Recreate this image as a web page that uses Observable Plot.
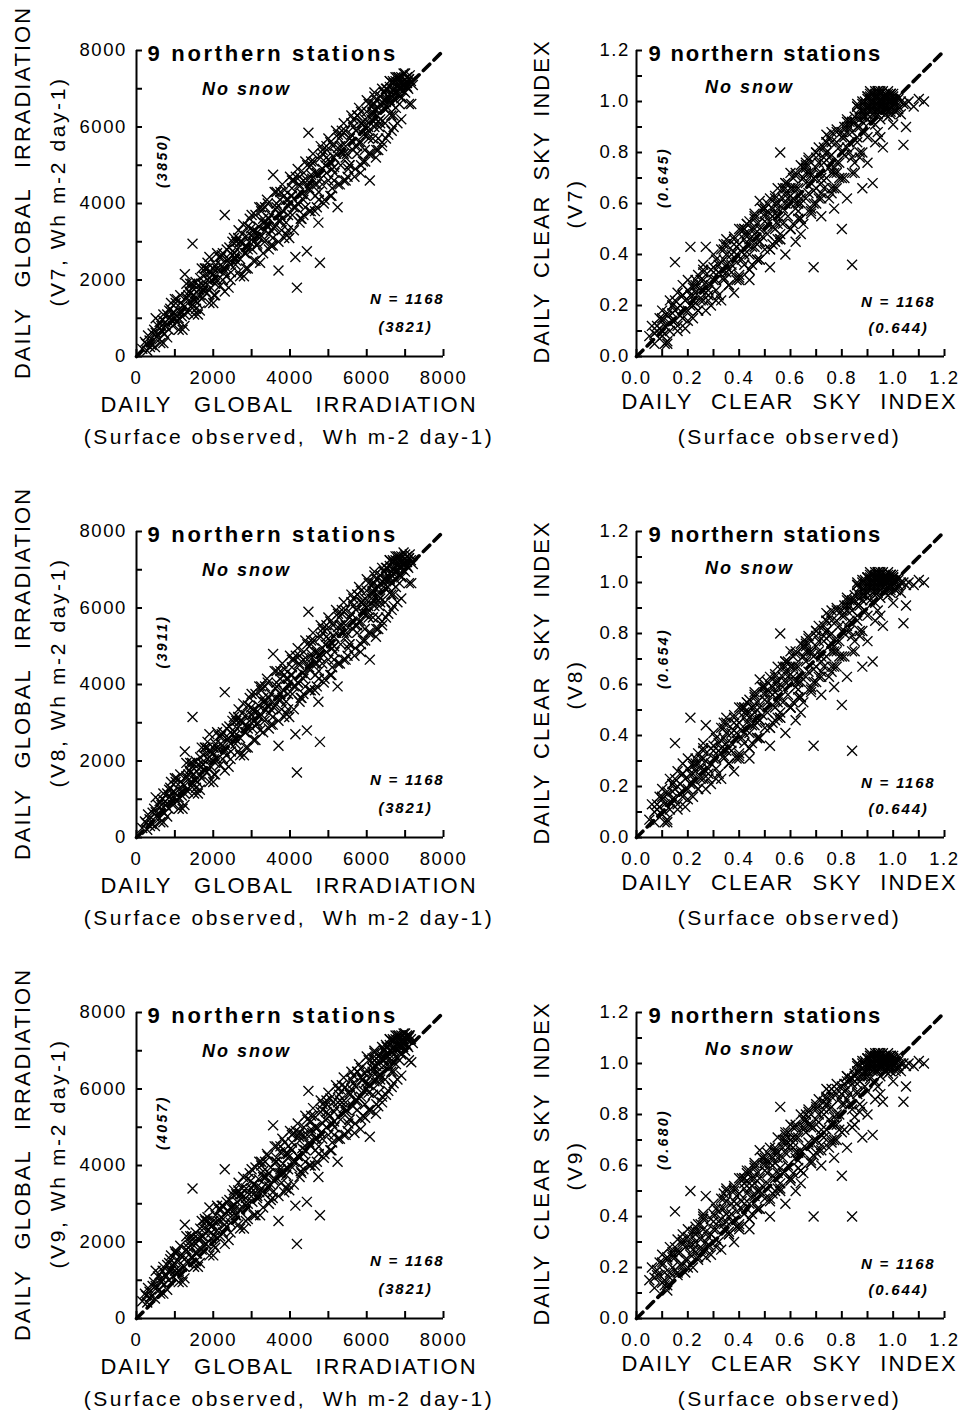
<!DOCTYPE html>
<html><head><meta charset="utf-8">
<script src="https://cdn.jsdelivr.net/npm/d3@7"></script>
<script src="https://cdn.jsdelivr.net/npm/@observablehq/plot@0.6"></script>
<style>
html,body{margin:0;padding:0;background:#fff;overflow:hidden}
#grid{display:grid;grid-template-columns:481px 481px;width:962px}
#grid svg{display:block;max-width:none;overflow:visible;background:none}
svg text{font-family:"Liberation Sans",Arial,sans-serif;fill:#000}
g[aria-label="x-axis tick label"],g[aria-label="y-axis tick label"]{font-size:18.5px}
g[aria-label="x-axis tick label"] text,g[aria-label="y-axis tick label"] text{letter-spacing:1.6px}
g[aria-description="station"] text{letter-spacing:2.7px}
.csi g[aria-description="station"] text{letter-spacing:1.8px}
g[aria-description="nosnow"] text{letter-spacing:2px}
g[aria-description="mean"] text{letter-spacing:2.4px}
g[aria-description="count"] text{letter-spacing:1.8px}
.irr g[aria-description="xtitle"] text{letter-spacing:2px;word-spacing:14px}
.csi g[aria-description="xtitle"] text{letter-spacing:2px;word-spacing:10px}
g[aria-description="xsub"] text{letter-spacing:2.5px}
.irr g[aria-description="ytitle"] text{letter-spacing:2px;word-spacing:12px}
.csi g[aria-description="ytitle"] text{letter-spacing:2px;word-spacing:6px}
g[aria-description="ysub"] text{letter-spacing:2.6px}
</style>
</head><body>
<div id="grid"></div>
<script>
// ---------- data ----------
const versions = ["V7", "V8", "V9"];
const stationLabel = "9 northern stations";
const snowLabel = "No snow";
const nDays = 1168;
const irrObsMean = 3821;
const irrModelMeans = [3850, 3911, 4057];
const csiObsMean = 0.644;
const csiModelMeans = [0.645, 0.654, 0.680];
const irrDomain = [0, 8000];
const csiDomain = [0, 1.2];
const irrMajorTicks = [0, 2000, 4000, 6000, 8000];
const irrMinorTicks = [0, 1000, 2000, 3000, 4000, 5000, 6000, 7000, 8000];
const csiMajorTicks = [0, 0.2, 0.4, 0.6, 0.8, 1.0, 1.2];
const csiMinorTicks = [0, 0.1, 0.2, 0.3, 0.4, 0.5, 0.6, 0.7, 0.8, 0.9, 1.0, 1.1, 1.2];

// daily global irradiation, surface observed (Wh m-2 day-1)
const irrObs = [
150,220,280,340,390,420,480,520,560,600,
640,680,720,760,800,840,880,900,950,980,
1020,1060,1100,1140,1180,1220,1260,1300,1340,1380,
1420,1460,1500,1540,1580,1620,1660,1700,1740,1780,
1820,1860,1900,1940,1980,2020,2060,2100,2140,2180,
2220,2260,2300,2340,2380,2420,2460,2500,2540,2580,
2620,2660,2700,2740,2780,2820,2860,2900,2940,2980,
3020,3060,3100,3140,3180,3220,3260,3300,3340,3380,
3420,3460,3500,3560,3580,3620,3700,3700,3740,3780,
3820,3860,3900,3940,3980,4020,4060,4100,4140,4180,
4200,4240,4280,4320,4360,4400,4440,4480,4500,4540,
4580,4620,4660,4700,4740,4780,4800,4840,4880,4920,
4960,5000,5040,5080,5120,5160,5200,5240,5280,5320,
5360,5400,5440,5480,5520,5560,5600,5640,5680,5720,
5760,5800,5840,5880,5920,5960,6000,6040,6080,6120,
6160,6200,6240,6280,6320,6360,6400,6440,6480,6520,
6560,6600,6640,6680,6720,6760,6800,6840,6880,6920,
6960,7000,7040,7080,7120,7160,7200,
300,460,620,700,860,1000,1150,1250,1350,1450,
1550,1650,1750,1850,1950,2050,2150,2250,2350,2450,
2550,2650,2750,2850,2950,3050,3150,3250,3350,3450,
3550,3650,3750,3850,3950,4050,4150,4250,4350,4450,
4550,4650,4750,4850,4950,5050,5150,5250,5350,5450,
5550,5650,5750,5850,5950,6050,6150,6250,6350,6450,
6550,6650,6750,6850,6950,7050,6600,6700,6900,6800,
7000,6500,6300,
250,500,750,950,1100,1300,1450,1600,1800,1950,
2100,2300,2450,2600,2750,2900,3050,3200,3350,3500,
3650,3800,3950,4100,4250,4400,4550,4700,4850,5000,
5150,5300,5450,5600,5750,5900,6050,6200,6350,6500,
6650,6800,6950,7100,6400,6550,6700,6850,7000,7150,
6450,6600,6750,6900,7050,6250,6150,6050,5950,5850,
350,650,850,1050,1250,1400,1550,1700,1900,2000,
2200,2400,2550,2700,2850,3000,3150,3300,3450,3600,
3750,3900,4050,4200,4350,4500,4650,4800,4950,5100,
5250,5400,5550,5700,5850,6000,6150,6300,6450,6600,
6750,6900,7050,6850,6950,6650,6500,6350,7100,6200,
3000,3100,3200,3300,3400,3500,3600,3700,3800,3900,
4000,4100,4200,4300,4400,4500,4600,4700,4800,4900,
5000,5100,5200,5300,5400,5500,5600,5700,5800,5900,
6000,6100,6200,6300,6400,6500,6600,6700,6800,6900,
3050,3250,3450,3650,3850,4050,4250,4450,4650,4850,
5050,5250,5450,5650,5850,6050,6250,6450,6650,6850,
1000,1200,1400,1600,1800,2000,2200,2400,2600,2800,
1100,1300,1500,1700,1900,2100,2300,2500,2700,2900,
6200,6400,6600,6800,7000,6300,6500,6700,6900,7100,
500,700,900,600,800,1050,1250,1450,1650,1850,
2050,2250,2450,2650,2850,3350,3550,3750,3950,4150,
4350,4550,4750,4950,5150,5350,5550,5750,5950,6150];

const irrV7 = [
200,380,150,420,300,600,250,520,800,450,
680,950,600,820,1100,700,1250,950,800,1150,
1400,900,1200,1600,1050,1350,2150,1500,1150,1700,
1300,2950,1600,1950,1400,1750,2050,1500,1850,2300,
1650,2000,2600,1800,2150,1600,2400,2000,2250,1850,
2650,2300,3700,2100,2500,2850,2200,2650,3100,2400,
2800,3300,2550,3000,3450,2700,3150,2300,3000,3350,
2800,3250,3700,2900,3400,2450,3150,3600,3000,3450,
4000,3200,3700,4750,3350,3850,2250,3550,4100,3300,
3800,4350,3500,3950,3100,4200,3700,4600,2600,1800,
4000,4500,3600,4250,4800,3900,2750,5850,4400,3800,
4650,5100,4200,4800,3500,2450,5200,4500,4000,5000,
5400,4600,5100,4200,5500,4800,5300,3900,5700,5000,
5500,4600,5900,5300,4900,5700,6100,5400,4700,5900,
6300,5600,4800,6100,5800,5100,6400,6000,4600,6200,
5700,6600,5200,6300,6000,6800,5500,6500,6100,7000,
5800,6700,6300,7200,6900,6500,7100,7300,6800,7100,
7400,6900,7200,7000,7350,6600,7100,
550,700,350,1100,1000,1000,1400,1100,1600,1800,
1250,1600,2100,2450,2000,1900,2600,2000,2800,2400,
2700,2200,3200,2900,3600,3000,3250,3800,3300,3600,
3100,4000,3700,4200,3700,4400,3900,4700,4100,4600,
5000,4500,4300,5300,4800,5600,5200,4500,5800,5500,
5000,6000,5300,6400,6000,5300,6400,6700,6200,6900,
6500,6900,7200,6600,7200,7300,7050,7000,7000,6900,
7100,6700,6500,
330,620,900,1150,1000,1550,1350,1850,1700,2200,
2300,2200,2700,2500,2950,2800,3300,3100,3500,3300,
3900,3600,4100,3900,4450,4200,4750,4500,4900,5150,
4950,5500,5200,5800,5500,6050,5700,6450,6100,6650,
6600,6950,7100,7250,6650,6800,7150,7000,7250,7200,
6900,6850,7300,7150,7050,6450,6300,5900,6200,5600,
250,800,1200,900,1300,1650,1450,1900,2200,2300,
2400,2550,2600,3000,2700,3150,2950,3500,3600,3400,
3550,4100,4200,4000,4600,4350,4800,4650,5200,4900,
5450,5300,5700,5500,6100,5800,6350,6150,6600,6350,
6900,6750,7150,7200,6950,6800,6750,6600,7250,6000,
3700,2500,3900,2700,4100,2900,4300,3000,4500,3200,
4700,3300,4900,3600,5100,3800,5300,3900,5500,4100,
5700,4400,5900,4500,6100,4700,6300,4900,6500,5100,
6700,5300,6900,5400,7000,5700,7200,6000,7300,6200,
2500,3900,2800,4300,3100,4600,3500,5000,3800,5400,
4200,5800,4600,6200,5000,6600,5400,6900,5900,7100,
1500,700,1900,1100,2300,1400,2600,1800,3000,2100,
700,1900,1100,2300,1400,2700,1700,3000,2100,3400,
6800,5600,7200,6100,7400,5700,7000,6300,7300,6600,
1000,350,1400,900,500,1500,800,1900,1200,2300,
1600,2700,2000,3100,2300,3900,2900,4300,3300,4700,
3700,5100,4100,5500,4600,5900,5000,6300,5400,6600];

const irrV8 = [
250,420,200,480,350,650,300,560,850,500,
720,1000,650,850,1150,750,1300,1000,850,1200,
1450,950,1250,1650,1100,1400,2250,1550,1200,1750,
1350,3150,1650,2000,1450,1800,2100,1550,1900,2350,
1700,2050,2700,1850,2200,1650,2450,2050,2300,1900,
2700,2350,3800,2150,2550,2900,2250,2700,3150,2450,
2850,3350,2600,3050,3500,2750,3200,2350,3050,3400,
2850,3300,3750,2950,3450,2800,3200,3650,3050,3500,
4050,3250,3750,4800,3400,3900,2400,3600,4150,3350,
3850,4400,3550,4000,3150,4250,3750,4650,2700,1700,
4050,4550,3650,4300,4850,3950,2800,5900,4450,3850,
4700,5150,4250,4850,3550,2500,5250,4550,4050,5050,
5450,4650,5150,4250,5550,4850,5350,3950,5750,5050,
5550,4650,5950,5350,4950,5750,6150,5450,4750,5950,
6350,5650,4850,6150,5850,5150,6450,6050,4650,6250,
5750,6650,5250,6350,6050,6850,5550,6550,6150,7050,
5850,6750,6350,7250,6950,6550,7150,7350,6850,7150,
7450,6950,7250,7050,7400,6650,7150,
600,750,400,1150,1050,1050,1450,1150,1650,1850,
1300,1650,2150,2500,2050,1950,2650,2050,2850,2450,
2750,2250,3250,2950,3650,3050,3300,3850,3350,3650,
3150,4050,3750,4250,3750,4450,3950,4750,4150,4650,
5050,4550,4350,5350,4850,5650,5250,4550,5850,5550,
5050,6050,5350,6450,6050,5350,6450,6750,6250,6950,
6550,6950,7250,6650,7250,7350,7100,7050,7050,6950,
7150,6750,6550,
380,660,950,1200,1050,1600,1400,1900,1750,2250,
2350,2250,2750,2550,3000,2850,3350,3150,3550,3350,
3950,3650,4150,3950,4500,4250,4800,4550,4950,5200,
5000,5550,5250,5850,5550,6100,5750,6500,6150,6700,
6650,7000,7150,7300,6700,6850,7200,7050,7300,7250,
6950,6900,7350,7200,7100,6500,6350,5950,6250,5650,
300,850,1250,950,1350,1700,1500,1950,2250,2350,
2450,2600,2650,3050,2750,3200,3000,3550,3650,3450,
3600,4150,4250,4050,4650,4400,4850,4700,5250,4950,
5500,5350,5750,5550,6150,5850,6400,6200,6650,6400,
6950,6800,7200,7250,7000,6850,6800,6650,7300,6050,
3750,2550,3950,2750,4150,2950,4350,3050,4550,3250,
4750,3350,4950,3650,5150,3850,5350,3950,5550,4150,
5750,4450,5950,4550,6150,4750,6350,4950,6550,5150,
6750,5350,6950,5450,7050,5750,7250,6050,7350,6250,
2550,3950,2850,4350,3150,4650,3550,5050,3850,5450,
4250,5850,4650,6250,5050,6650,5450,6950,5950,7150,
1550,750,1950,1150,2350,1450,2650,1850,3050,2150,
750,1950,1150,2350,1450,2750,1750,3050,2150,3450,
6850,5650,7250,6150,7400,5750,7050,6350,7350,6650,
1050,400,1450,950,550,1550,850,1950,1250,2350,
1650,2750,2050,3150,2350,3950,2950,4350,3350,4750,
3750,5150,4150,5550,4650,5950,5050,6350,5450,6650];

const irrV9 = [
450,650,420,700,580,850,520,800,1100,750,
950,1250,900,1100,1400,1000,1550,1250,1100,1450,
1700,1200,1500,1900,1350,1650,2450,1800,1450,2000,
1600,3400,1900,2250,1700,2050,2350,1800,2150,2600,
1950,2300,2900,2100,2450,1900,2700,2300,2550,2150,
2950,2600,3900,2400,2800,3100,2500,2950,3350,2700,
3050,3550,2850,3250,3700,3000,3400,2600,3250,3600,
3050,3500,3950,3150,3650,2700,3400,3850,3250,3700,
4250,3450,3950,5050,3600,4100,2550,3800,4350,3550,
4050,4600,3750,4200,3350,4450,3950,4850,2950,1950,
4250,4750,3850,4450,5000,4100,3050,5950,4600,4000,
4850,5300,4400,5000,3700,2700,5400,4700,4200,5200,
5600,4800,5300,4400,5650,5000,5500,4100,5850,5200,
5650,4800,6050,5450,5100,5850,6250,5550,4850,6050,
6450,5750,4950,6250,5950,5250,6500,6150,4750,6350,
5850,6750,5350,6450,6150,6900,5650,6600,6250,7100,
5950,6800,6450,7300,7000,6650,7200,7400,6950,7200,
7450,7000,7300,7100,7400,6700,7200,
800,950,650,1350,1250,1250,1650,1350,1850,2050,
1500,1850,2350,2650,2250,2150,2850,2250,3050,2650,
2950,2450,3400,3150,3800,3250,3450,4000,3500,3800,
3300,4200,3900,4400,3900,4600,4100,4850,4300,4800,
5150,4700,4500,5450,5000,5750,5400,4700,5950,5650,
5200,6150,5450,6550,6150,5450,6550,6800,6350,7000,
6650,7000,7300,6750,7300,7400,7150,7100,7100,7000,
7200,6850,6650,
600,850,1150,1400,1250,1800,1600,2100,1950,2400,
2500,2450,2900,2700,3150,3000,3500,3300,3700,3500,
4100,3800,4300,4100,4650,4400,4950,4700,5100,5350,
5150,5700,5400,6000,5700,6250,5900,6600,6250,6800,
6750,7050,7200,7350,6800,6950,7250,7100,7350,7300,
7050,7000,7400,7250,7150,6600,6450,6100,6400,5800,
550,1050,1450,1150,1550,1900,1700,2150,2450,2550,
2650,2800,2850,3250,2950,3400,3200,3700,3800,3650,
3800,4300,4400,4250,4800,4550,5000,4850,5400,5100,
5650,5500,5900,5700,6300,6000,6550,6350,6750,6550,
7050,6900,7300,7300,7100,6950,6900,6800,7400,6200,
3900,2700,4100,2900,4300,3100,4500,3200,4700,3400,
4900,3500,5100,3800,5300,4000,5500,4100,5700,4300,
5900,4600,6100,4700,6300,4900,6450,5100,6650,5300,
6850,5450,7000,5550,7100,5850,7300,6150,7400,6350,
2700,4100,3000,4500,3300,4800,3700,5200,4000,5600,
4400,6000,4800,6350,5200,6750,5600,7000,6050,7200,
1750,950,2150,1350,2550,1650,2850,2050,3250,2350,
950,2150,1350,2550,1650,2950,1950,3250,2350,3650,
6950,5800,7300,6250,7450,5900,7150,6450,7400,6750,
1250,650,1650,1150,750,1750,1050,2150,1450,2550,
1850,2950,2250,3350,2550,4100,3150,4500,3500,4900,
3900,5300,4300,5700,4800,6100,5200,6450,5600,6800];

// daily clear sky index, surface observed
const csiObs = [
.05,.06,.07,.08,.09,.10,.10,.11,.12,.12,
.13,.13,.14,.15,.15,.16,.16,.17,.18,.18,
.19,.20,.20,.21,.21,.22,.22,.23,.24,.24,
.25,.26,.26,.27,.27,.28,.29,.29,.30,.31,
.31,.32,.33,.33,.34,.35,.35,.36,.37,.37,
.38,.39,.39,.40,.40,.41,.42,.42,.43,.44,
.44,.45,.46,.46,.47,.48,.48,.49,.50,.50,
.51,.52,.52,.53,.54,.54,.55,.55,.56,.56,
.57,.58,.58,.59,.60,.60,.61,.62,.62,.63,
.64,.64,.65,.66,.66,.67,.68,.68,.69,.69,
.70,.70,.71,.72,.72,.73,.74,.74,.75,.76,
.76,.77,.78,.78,.79,.80,.80,.81,.82,.82,
.83,.84,.84,.85,.85,.86,.87,.87,.88,.88,
.89,.89,.90,.90,.91,.91,.92,.92,.93,.93,
.94,.94,.95,.95,.96,.96,.97,.97,.98,.98,
.99,.99,1.00,1.00,1.01,1.02,1.03,1.04,1.05,1.06,
1.08,1.10,1.12,1.04,
.86,.88,.90,.92,.93,.94,.95,.96,.97,.98,
.99,1.00,1.01,.91,.89,.87,.95,.93,1.02,.84,
.83,.81,.79,.77,.75,.73,.71,.69,.67,.65,
.63,.61,.59,.57,.55,.53,.51,.49,.47,.45,
.43,.41,.39,.37,.35,.33,.31,.29,.27,.25,
.23,.21,.19,.17,.15,.13,.11,.09,.07,.14,
.18,.22,.26,.30,.34,.38,.42,.46,.50,.54,
.58,.62,.66,.70,.74,.78,.82,.86,.90,.94,
.98,.64,.76,.60,.48,.44,
.88,.90,.91,.92,.93,.94,.95,.96,.97,.98,
.99,1.00,1.01,1.02,.89,.91,.93,.95,.97,.99,
.92,.94,.96,.98,1.00,.90,.93,.95,.97,.99,
.87,.89,.91,.94,.96,.98,1.00,1.02,.92,.96,
.85,.86,.88,.90,.94,.97,1.03,1.05,.99,.95,
.08,.12,.16,.20,.24,.28,.32,.36,.40,.44,
.48,.52,.56,.60,.64,.68,.72,.76,.80,.84,
.10,.14,.18,.22,.26,.30,.34,.38,.42,.46,
.50,.54,.58,.62,.66,.70,.74,.78,.82,.86,
.45,.55,.65,.75,.35,.25,.57,.67,.77,.81,
.71,.61,.53,.43,.33,.23,.47,.63,.73,.83,
.30,.32,.34,.36,.38,.40,.42,.44,.46,.48,
.50,.52,.54,.56,.58,.60,.62,.64,.66,.68,
.70,.72,.74,.76,.78,.80,.82,.84,.86,.88,
.31,.35,.39,.43,.47,.51,.55,.59,.63,.67,
.71,.75,.79,.83,.87,.91,.95,.99,.89,.93,
.10,.12,.14,.16,.18,.20,.22,.24,.26,.28,
.11,.15,.19,.23,.27,.41,.45,.49,.53,.57,
.61,.65,.69,.73,.77,.81,.85,.89,.93,.97,
.90,.92,.94,.96,.98,1.00,.91,.93,.95,.97,
.99,1.01,.88,.86,.84,.82,.80,.78,.76,.74,
.72,.70,.68,.66,.64,.62,.60,.58,.56,.54,
.52,.50,.48,.46,.44,.42,.40,.38,.36,.34];

const csiV7 = [
.08,.12,.05,.10,.15,.08,.18,.12,.05,.16,
.10,.22,.14,.37,.18,.12,.25,.20,.15,.28,
.22,.18,.30,.43,.24,.15,.27,.21,.32,.18,
.26,.36,.22,.43,.29,.24,.34,.20,.30,.38,
.26,.33,.42,.22,.30,.36,.46,.28,.40,.33,
.25,.43,.37,.50,.32,.41,.46,.36,.52,.40,
.30,.47,.43,.56,.38,.50,.45,.58,.42,.53,
.48,.62,.35,.51,.56,.45,.66,.52,.80,.48,
.58,.68,.40,.55,.63,.50,.70,.58,.45,.66,
.60,.75,.52,.68,.62,.78,.56,.71,.35,.65,
.74,.60,.82,.68,.55,.76,.70,.87,.62,.79,
.72,.58,.84,.66,.76,.50,.88,.70,.82,.62,
.90,.36,.78,.94,.72,.86,.97,.80,.92,.66,
1.00,.88,.95,.76,1.02,.92,.98,.68,1.03,.95,
.99,.88,1.01,.96,1.04,.82,.98,1.02,.94,1.00,
1.03,.97,1.01,.91,.99,1.02,.95,.83,.90,1.00,
.98,1.01,1.00,.99,
.95,.99,1.01,1.03,.99,1.02,.98,1.00,.95,1.02,
1.00,1.03,.96,.97,.94,.90,.93,.91,.98,.88,
.84,.79,.82,.74,.78,.66,.72,.70,.64,.70,
.57,.62,.62,.52,.58,.55,.52,.47,.52,.43,
.44,.38,.40,.36,.33,.34,.30,.28,.25,.22,
.25,.20,.18,.16,.14,.13,.09,.11,.09,.20,
.24,.24,.30,.33,.38,.41,.48,.48,.56,.60,
.60,.66,.72,.78,.80,.89,.92,.98,.86,.95,
.97,.48,.64,.72,.61,.53,
1.00,.98,1.03,1.00,1.02,.97,1.03,.99,1.01,1.04,
.96,1.02,1.00,.97,.97,1.01,1.04,.99,1.03,1.01,
.95,1.03,.98,1.00,.98,1.02,.96,1.04,1.00,.98,
.93,.98,1.04,1.01,.97,1.03,.99,1.01,.99,1.02,
.92,.99,.96,.93,1.04,.99,1.00,.99,.95,1.00,
.12,.17,.19,.26,.28,.26,.36,.34,.44,.46,
.45,.56,.54,.66,.62,.72,.70,.84,.80,.92,
.14,.17,.24,.20,.33,.35,.31,.44,.40,.50,
.55,.50,.64,.60,.74,.66,.80,.76,.90,.84,
.50,.60,.70,.74,.40,.30,.62,.72,.72,.86,
.76,.66,.58,.48,.37,.28,.44,.60,.78,.80,
.40,.24,.44,.28,.47,.30,.50,.34,.55,.38,
.58,.42,.62,.46,.66,.50,.71,.54,.75,.57,
.80,.62,.84,.66,.88,.70,.93,.72,.98,.80,
.22,.44,.30,.52,.38,.60,.46,.68,.54,.77,
.62,.86,.70,.92,.78,.98,.86,1.03,.94,.97,
.15,.06,.20,.10,.24,.14,.28,.18,.34,.22,
.05,.22,.11,.30,.18,.50,.36,.58,.44,.66,
.52,.74,.60,.82,.66,.90,.76,.96,.84,1.02,
1.02,.97,1.04,.99,1.02,1.00,.99,1.02,.98,1.01,
1.03,.96,.94,.90,.92,.88,.86,.72,.88,.84,
.64,.80,.58,.76,.54,.72,.50,.68,.46,.63,
.42,.58,.38,.54,.34,.50,.31,.46,.28,.42];

const csiV8 = [
.07,.13,.06,.11,.16,.09,.19,.13,.06,.17,
.11,.23,.15,.37,.19,.13,.26,.21,.16,.29,
.23,.19,.31,.47,.25,.16,.28,.22,.33,.19,
.27,.37,.23,.44,.30,.25,.35,.21,.31,.39,
.27,.34,.43,.23,.31,.37,.47,.29,.41,.34,
.26,.44,.38,.51,.33,.42,.47,.37,.53,.41,
.31,.48,.44,.57,.39,.51,.46,.59,.43,.54,
.49,.63,.36,.52,.57,.46,.67,.53,.80,.49,
.59,.69,.41,.56,.64,.51,.71,.59,.46,.67,
.61,.76,.53,.69,.63,.79,.57,.72,.36,.66,
.75,.61,.83,.69,.56,.77,.71,.88,.63,.80,
.73,.59,.85,.67,.77,.52,.89,.71,.83,.63,
.91,.34,.79,.95,.73,.87,.98,.81,.93,.67,
1.01,.89,.96,.77,1.02,.93,.99,.69,1.03,.96,
1.00,.89,1.02,.97,1.04,.83,.99,1.02,.95,1.01,
1.03,.98,1.02,.92,1.00,1.02,.96,.84,.91,1.00,
.99,1.01,1.00,1.00,
.96,1.00,1.02,1.03,1.00,1.02,.99,1.01,.96,1.02,
1.01,1.03,.97,.98,.95,.91,.94,.92,.99,.89,
.85,.80,.83,.75,.79,.67,.73,.71,.65,.71,
.58,.63,.63,.53,.59,.56,.53,.48,.53,.44,
.45,.39,.41,.37,.34,.35,.31,.29,.26,.23,
.26,.21,.19,.17,.15,.14,.10,.12,.10,.21,
.25,.25,.31,.34,.39,.42,.49,.49,.57,.61,
.61,.67,.73,.79,.81,.90,.93,.99,.87,.96,
.98,.49,.65,.73,.62,.54,
1.01,.99,1.03,1.01,1.02,.98,1.03,1.00,1.01,1.04,
.97,1.02,1.01,.98,.98,1.01,1.04,1.00,1.03,1.01,
.96,1.03,.99,1.01,.99,1.02,.97,1.04,1.00,.99,
.94,.99,1.04,1.01,.98,1.03,1.00,1.01,1.00,1.02,
.93,1.00,.97,.94,1.04,1.00,1.00,.99,.96,1.01,
.13,.18,.20,.27,.29,.27,.37,.35,.45,.47,
.46,.57,.55,.67,.63,.73,.71,.85,.81,.93,
.15,.18,.25,.21,.34,.36,.32,.45,.41,.51,
.56,.51,.65,.61,.75,.67,.81,.77,.91,.85,
.51,.61,.71,.75,.41,.31,.63,.73,.73,.87,
.77,.67,.59,.49,.38,.29,.45,.61,.79,.81,
.41,.25,.45,.29,.48,.31,.51,.35,.56,.39,
.59,.43,.63,.47,.67,.51,.72,.55,.76,.58,
.81,.63,.85,.67,.89,.71,.94,.73,.99,.81,
.23,.45,.31,.53,.39,.61,.47,.69,.55,.78,
.63,.87,.71,.93,.79,.99,.87,1.03,.95,.98,
.16,.07,.21,.11,.25,.15,.29,.19,.35,.23,
.06,.23,.12,.31,.19,.51,.37,.59,.45,.67,
.53,.75,.61,.83,.67,.91,.77,.97,.85,1.02,
1.02,.98,1.04,1.00,1.02,1.01,1.00,1.02,.99,1.01,
1.03,.97,.95,.91,.93,.89,.87,.73,.89,.85,
.65,.81,.59,.77,.55,.73,.51,.69,.47,.64,
.43,.59,.39,.55,.35,.51,.32,.47,.29,.43];

const csiV9 = [
.15,.20,.12,.17,.22,.14,.25,.18,.11,.23,
.16,.28,.20,.42,.24,.18,.31,.26,.21,.33,
.28,.23,.35,.50,.29,.20,.32,.26,.37,.23,
.31,.41,.27,.48,.34,.29,.39,.25,.35,.43,
.31,.38,.47,.27,.35,.41,.51,.33,.45,.38,
.30,.48,.42,.55,.37,.46,.51,.41,.57,.45,
.35,.52,.48,.61,.43,.55,.50,.63,.47,.58,
.53,.67,.40,.56,.61,.50,.71,.57,.83,.53,
.63,.73,.45,.60,.68,.55,.75,.63,.50,.71,
.65,.80,.57,.73,.67,.82,.61,.75,.40,.70,
.78,.65,.86,.72,.60,.80,.74,.90,.67,.83,
.76,.63,.88,.70,.80,.56,.91,.74,.86,.67,
.93,.40,.82,.96,.76,.89,.99,.84,.95,.71,
1.01,.91,.97,.80,1.03,.94,.99,.72,1.03,.97,
1.00,.91,1.02,.98,1.04,.85,.99,1.03,.96,1.01,
1.03,.98,1.02,.93,1.00,1.03,.97,.85,.91,1.00,
.99,1.01,1.00,1.00,
.97,1.00,1.02,1.03,1.00,1.03,.99,1.01,.97,1.02,
1.01,1.03,.98,.99,.97,.93,.95,.93,.99,.92,
.88,.84,.86,.79,.82,.71,.77,.75,.69,.75,
.62,.67,.67,.57,.63,.60,.57,.52,.57,.48,
.49,.43,.45,.41,.38,.39,.35,.33,.30,.27,
.30,.25,.23,.21,.19,.18,.15,.17,.16,.25,
.29,.29,.35,.38,.43,.46,.53,.53,.61,.65,
.65,.71,.77,.82,.84,.92,.95,1.00,.89,.97,
.99,.53,.69,.76,.66,.58,
1.01,.99,1.03,1.01,1.03,.98,1.03,1.00,1.02,1.04,
.97,1.02,1.01,.98,.99,1.02,1.04,1.00,1.03,1.02,
.97,1.03,.99,1.01,.99,1.02,.98,1.04,1.01,.99,
.95,.99,1.04,1.02,.99,1.03,1.00,1.01,1.00,1.02,
.95,1.00,.98,.95,1.04,1.00,1.00,.99,.97,1.01,
.19,.24,.26,.32,.34,.32,.42,.40,.49,.51,
.50,.61,.59,.70,.66,.76,.74,.87,.84,.94,
.21,.24,.31,.27,.39,.41,.37,.50,.45,.55,
.60,.55,.69,.65,.78,.70,.84,.80,.93,.88,
.55,.65,.74,.78,.46,.37,.67,.76,.76,.89,
.80,.71,.63,.54,.43,.34,.50,.65,.82,.84,
.45,.30,.49,.34,.52,.35,.55,.39,.60,.43,
.62,.46,.66,.50,.70,.54,.75,.58,.78,.61,
.83,.66,.87,.70,.90,.73,.95,.75,.99,.83,
.28,.50,.36,.58,.43,.65,.51,.73,.59,.81,
.66,.89,.74,.94,.81,.99,.88,1.03,.95,.98,
.22,.13,.26,.17,.30,.20,.34,.24,.40,.28,
.13,.28,.18,.36,.24,.55,.41,.63,.49,.70,
.57,.78,.64,.85,.70,.92,.79,.97,.86,1.02,
1.02,.98,1.04,1.00,1.02,1.01,1.00,1.02,.99,1.01,
1.03,.97,.96,.92,.94,.90,.88,.76,.90,.86,
.68,.84,.62,.80,.58,.76,.55,.72,.51,.67,
.47,.63,.43,.59,.39,.55,.36,.51,.33,.47];

const irrModels = [irrV7, irrV8, irrV9];
const csiModels = [csiV7, csiV8, csiV9];

// ---------- drawing ----------
const W = 481;

function panel(kind, row) {
  const irr = kind === "irr";
  const H = row === 2 ? 449 : 481;
  const mL = irr ? 136 : 155, mR = irr ? 38 : 18, mT = 50, mB = H - 356;
  const pw = W - mL - mR, ph = H - mT - mB;
  const obs = irr ? irrObs : csiObs;
  const mod = (irr ? irrModels : csiModels)[row];
  const pts = obs.map((x, i) => ({x, y: mod[i]})).filter(d => d.y != null);
  const dom = irr ? irrDomain : csiDomain;
  const fmt = irr ? d3.format("d") : d3.format(".1f");
  const meanFmt = irr ? d3.format("d") : d3.format(".3f");
  const major = irr ? irrMajorTicks : csiMajorTicks;
  const minor = irr ? irrMinorTicks : csiMinorTicks;
  const xTitle = irr ? "DAILY GLOBAL IRRADIATION" : "DAILY CLEAR SKY INDEX";
  const xSub = irr ? "(Surface observed,  Wh m-2 day-1)" : "(Surface observed)";
  const yTitle = irr ? "DAILY GLOBAL IRRADIATION" : "DAILY CLEAR SKY INDEX";
  const ySub = irr ? `(${versions[row]}, Wh m-2 day-1)` : `(${versions[row]})`;
  const modelMean = (irr ? irrModelMeans : csiModelMeans)[row];
  const obsMean = irr ? irrObsMean : csiObsMean;
  const bi = {fontWeight: "bold", fontStyle: "italic"};
  return Plot.plot({
    width: W, height: H,
    marginLeft: mL, marginRight: mR, marginTop: mT, marginBottom: mB,
    x: {domain: dom}, y: {domain: dom},
    style: {background: "none", overflow: "visible"},
    marks: [
      Plot.line([[dom[0], dom[0]], [dom[1], dom[1]]], {stroke: "black", strokeWidth: 3.6, strokeDasharray: "9,6"}),
      Plot.dot(pts, {x: "x", y: "y", symbol: "times", r: 4.6, stroke: "black", strokeWidth: 1.35}),
      Plot.ruleX([dom[0]], {strokeWidth: 2}),
      Plot.ruleY([dom[0]], {strokeWidth: 2}),
      Plot.tickX(minor, {x: d => d, insetTop: ph - 7, strokeWidth: 2}),
      Plot.tickY(minor, {y: d => d, insetRight: pw - 6, strokeWidth: 2}),
      Plot.axisX(major, {tickSize: 0, tickPadding: 14, tickFormat: fmt, label: null}),
      Plot.axisY(major, {tickSize: 0, tickPadding: irr ? 9.5 : 6.5, tickFormat: fmt, label: null}),
      Plot.text([stationLabel], {text: d => d, frameAnchor: "top-left", dx: irr ? 11 : 12, dy: -5, textAnchor: "start", lineAnchor: "top", fontSize: 22, fontWeight: "bold", ariaDescription: "station"}),
      Plot.text([snowLabel], {text: d => d, frameAnchor: "top-left", dx: irr ? 110 : 113, dy: irr ? 32 : 30, textAnchor: "middle", lineAnchor: "top", fontSize: 18, ...bi, ariaDescription: "nosnow"}),
      Plot.text([`(${meanFmt(modelMean)})`], {text: d => d, frameAnchor: "top-left", dx: irr ? 26 : 27, dy: irr ? 110 : 127, rotate: -90, textAnchor: "middle", lineAnchor: "middle", fontSize: 14, ...bi, ariaDescription: "mean"}),
      Plot.text([`N = ${nDays}`], {text: d => d, frameAnchor: "top-right", dx: irr ? 1 : -9, dy: irr ? 243 : 246, textAnchor: "end", lineAnchor: "top", fontSize: 15, ...bi, ariaDescription: "count"}),
      Plot.text([`(${meanFmt(obsMean)})`], {text: d => d, frameAnchor: "top-right", dx: irr ? -38 : -46, dy: irr ? 271 : 272, textAnchor: "middle", lineAnchor: "top", fontSize: 15, ...bi, ariaDescription: "count"}),
      Plot.text([xTitle], {text: d => d, frameAnchor: "bottom", dx: irr ? -1 : -1, dy: irr ? 40 : 37, textAnchor: "middle", lineAnchor: "top", fontSize: 22, ariaDescription: "xtitle"}),
      Plot.text([xSub], {text: d => d, frameAnchor: "bottom", dx: irr ? -1 : -1, dy: 73, textAnchor: "middle", lineAnchor: "top", fontSize: 21, ariaDescription: "xsub"}),
      Plot.text([yTitle], {text: d => d, frameAnchor: "left", dx: irr ? -122 : -103, dy: irr ? -11 : -2, rotate: -90, textAnchor: "middle", lineAnchor: "top", fontSize: 22, ariaDescription: "ytitle"}),
      Plot.text([ySub], {text: d => d, frameAnchor: "left", dx: irr ? -86 : -69, dy: irr ? -12 : 0, rotate: -90, textAnchor: "middle", lineAnchor: "top", fontSize: 21, ariaDescription: "ysub"})
    ]
  });
}

const grid = document.getElementById("grid");
for (let row = 0; row < 3; row++) {
  for (const kind of ["irr", "csi"]) {
    const cell = document.createElement("div");
    cell.className = kind;
    cell.appendChild(panel(kind, row));
    grid.appendChild(cell);
  }
}
</script>
</body></html>
